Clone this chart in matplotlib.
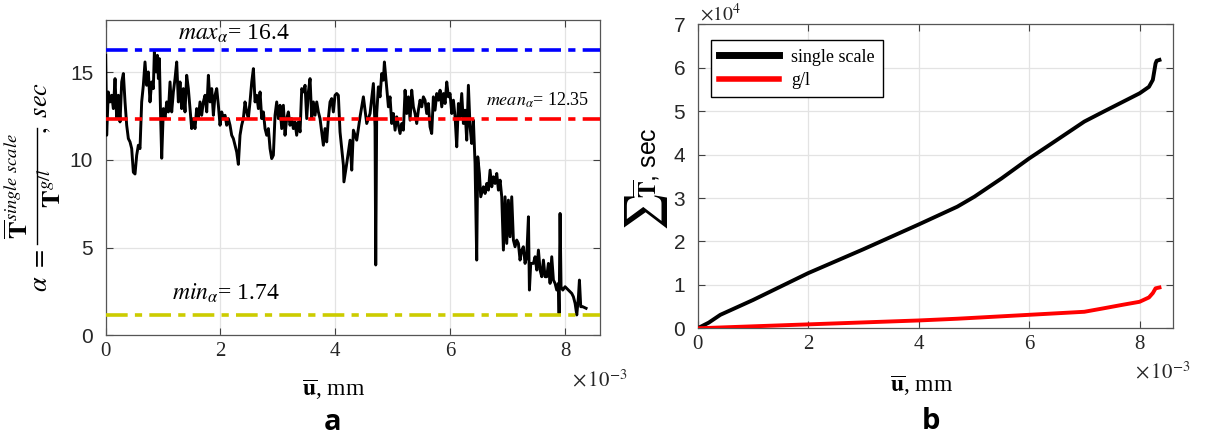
import numpy as np
import matplotlib
matplotlib.use("Agg")
import matplotlib.pyplot as plt
from matplotlib.lines import Line2D

plt.rcParams['font.family'] = 'Liberation Serif'
plt.rcParams['mathtext.fontset'] = 'stix'

# ---- panel a : alpha ratio vs displacement (u in units of 1e-3 mm)
u_a = [0.000, 0.017, 0.046, 0.075, 0.105, 0.134, 0.163, 0.192, 0.221, 0.250,
       0.279, 0.308, 0.337, 0.366, 0.395, 0.424, 0.453, 0.482, 0.511, 0.540,
       0.569, 0.598, 0.627, 0.656, 0.685, 0.714, 0.743, 0.772, 0.801, 0.830,
       0.848, 0.877, 0.900, 0.918, 0.935, 0.958, 0.976, 1.005, 1.034, 1.063,
       1.092, 1.121, 1.150, 1.179, 1.208, 1.237, 1.266, 1.295, 1.324, 1.353,
       1.382, 1.411, 1.440, 1.469, 1.498, 1.527, 1.556, 1.585, 1.614, 1.643,
       1.672, 1.701, 1.731, 1.760, 1.789, 1.818, 1.847, 1.876, 1.905, 1.934,
       1.963, 1.992, 2.021, 2.050, 2.079, 2.108, 2.137, 2.166, 2.195, 2.224,
       2.253, 2.282, 2.311, 2.340, 2.369, 2.398, 2.427, 2.456, 2.485, 2.514,
       2.544, 2.573, 2.602, 2.631, 2.660, 2.689, 2.718, 2.747, 2.776, 2.805,
       2.834, 2.863, 2.892, 2.921, 2.950, 2.979, 3.008, 3.037, 3.066, 3.095,
       3.124, 3.153, 3.182, 3.211, 3.240, 3.269, 3.298, 3.327, 3.357, 3.386,
       3.415, 3.444, 3.473, 3.502, 3.531, 3.560, 3.589, 3.618, 3.647, 3.676,
       3.705, 3.734, 3.763, 3.792, 3.821, 3.850, 3.879, 3.908, 3.937, 3.966,
       3.995, 4.024, 4.053, 4.082, 4.111, 4.141, 4.150, 4.199, 4.257, 4.286,
       4.315, 4.373, 4.431, 4.489, 4.547, 4.605, 4.663, 4.692, 4.704, 4.721,
       4.750, 4.779, 4.808, 4.837, 4.855, 4.884, 4.925, 4.953, 4.983, 5.012,
       5.041, 5.070, 5.128, 5.157, 5.186, 5.215, 5.244, 5.273, 5.302, 5.331,
       5.360, 5.389, 5.418, 5.447, 5.476, 5.505, 5.534, 5.563, 5.592, 5.621,
       5.650, 5.679, 5.708, 5.737, 5.767, 5.796, 5.825, 5.854, 5.883, 5.912,
       5.941, 5.970, 5.999, 6.028, 6.057, 6.086, 6.115, 6.144, 6.173, 6.202,
       6.231, 6.260, 6.289, 6.318, 6.347, 6.376, 6.405, 6.434, 6.463, 6.481,
       6.510, 6.533, 6.580, 6.609, 6.638, 6.667, 6.696, 6.725, 6.754, 6.783,
       6.812, 6.841, 6.870, 6.899, 6.928, 6.957, 6.986, 7.015, 7.044, 7.073,
       7.102, 7.131, 7.160, 7.189, 7.218, 7.247, 7.276, 7.305, 7.334, 7.364,
       7.381, 7.404, 7.451, 7.480, 7.509, 7.538, 7.567, 7.596, 7.625, 7.654,
       7.683, 7.712, 7.741, 7.770, 7.799, 7.828, 7.857, 7.886, 7.898, 7.915,
       7.932, 7.962, 8.002, 8.060, 8.118, 8.147, 8.177, 8.206, 8.235, 8.252,
       8.275, 8.310, 8.368]
alpha = [15.97, 11.41, 13.88, 13.31, 13.69, 12.93, 14.64, 12.36, 13.69, 12.17,
         14.45, 14.93, 13.31, 11.98, 11.22, 11.03, 10.65, 9.30, 9.20, 10.27,
         10.84, 10.65, 13.31, 14.26, 15.59, 14.26, 15.02, 13.31, 14.45, 14.07,
         16.16, 15.02, 15.97, 14.64, 15.78, 12.36, 10.10, 12.93, 12.36, 13.31,
         12.74, 14.45, 12.74, 13.88, 14.64, 15.59, 13.31, 14.45, 12.93, 14.07,
         12.74, 14.83, 14.07, 12.93, 11.79, 12.36, 11.79, 12.93, 12.36, 13.31,
         12.55, 13.31, 13.69, 12.74, 14.83, 13.31, 14.07, 12.55, 13.69, 14.07,
         13.12, 11.98, 12.74, 12.36, 12.55, 11.98, 12.36, 11.98, 11.41, 11.22,
         10.84, 10.46, 9.75, 11.41, 11.98, 12.36, 13.31, 12.74, 12.36, 13.31,
         14.45, 15.21, 13.31, 13.69, 12.93, 13.88, 12.36, 12.74, 11.79, 11.41,
         11.79, 10.65, 10.08, 10.27, 12.55, 13.31, 12.36, 13.12, 11.79, 13.12,
         11.41, 12.36, 12.74, 11.98, 12.36, 11.79, 12.17, 11.41, 12.17, 11.60,
         14.07, 13.88, 14.26, 12.36, 13.88, 14.64, 12.36, 13.31, 12.55, 13.31,
         12.74, 12.36, 11.60, 10.84, 11.79, 11.03, 12.36, 13.31, 13.50, 12.74,
         13.69, 13.79, 13.69, 11.60, 10.65, 9.70, 8.75, 9.80, 11.13, 9.42,
         11.70, 11.13, 12.46, 13.60, 12.08, 12.65, 14.36, 11.89, 4.01, 12.65,
         14.17, 13.60, 14.93, 14.55, 15.59, 14.55, 13.03, 13.60, 12.08, 12.65,
         11.70, 12.46, 11.51, 12.08, 11.70, 13.98, 12.65, 13.60, 12.27, 13.98,
         13.03, 12.65, 12.08, 12.84, 13.41, 13.03, 13.60, 13.41, 12.65, 13.22,
         11.89, 11.51, 13.60, 12.84, 13.79, 13.41, 13.98, 13.03, 13.79, 13.22,
         14.45, 13.60, 13.79, 12.65, 13.41, 12.46, 10.75, 13.22, 12.46, 13.79,
         12.08, 12.84, 11.13, 14.26, 11.89, 10.94, 12.27, 9.80, 4.29, 10.18,
         9.23, 7.90, 8.47, 8.09, 8.66, 8.28, 9.42, 8.47, 9.04, 8.66,
         9.23, 8.28, 8.85, 7.90, 4.86, 7.90, 5.24, 7.71, 5.62, 7.90,
         5.43, 5.05, 5.43, 5.24, 4.29, 4.86, 5.05, 4.10, 4.48, 6.76,
         2.58, 4.10, 4.10, 4.48, 3.72, 4.86, 3.72, 3.34, 4.29, 3.34,
         3.34, 4.10, 2.96, 4.48, 3.15, 2.96, 2.58, 2.96, 1.25, 6.95,
         2.77, 2.58, 2.77, 2.58, 2.39, 2.20, 1.82, 1.16, 2.20, 3.15,
         1.63, 1.63, 1.54]
alpha_max_line = 16.27
alpha_mean_line = 12.33
alpha_min_line = 1.15

# ---- panel b : cumulative time (units of 1e4 sec)
u_single = [0.0, 0.2, 0.41, 1.0, 2.0, 3.0, 4.0, 4.70, 5.01, 5.5, 6.0, 6.32,
            7.0, 7.35, 8.0, 8.17, 8.24, 8.29, 8.31, 8.36]
t_single = [0.0, 0.13, 0.31, 0.65, 1.27, 1.82, 2.39, 2.80, 3.03, 3.45, 3.91,
            4.18, 4.76, 4.99, 5.41, 5.56, 5.72, 6.10, 6.16, 6.18]
u_gl = [0.0, 2.0, 4.0, 4.7, 6.0, 7.0, 7.35, 7.69, 8.0, 8.17, 8.24, 8.29, 8.36]
t_gl = [0.0, 0.09, 0.18, 0.22, 0.31, 0.38, 0.46, 0.54, 0.61, 0.71, 0.81,
        0.92, 0.94]

sans = 'Liberation Sans'
tickc = '#262626'
W, H = 1205.0, 441.0

fig = plt.figure(figsize=(12.05, 4.41), dpi=100)
ax1 = fig.add_axes([0.0877, 0.2397, 0.4102, 0.7156])
ax2 = fig.add_axes([0.5790, 0.2556, 0.3942, 0.6893])

def px(x, y):
    # pixel position (from top-left) -> figure fraction
    return x / W, 1 - y / H

def style(ax):
    ax.grid(True, color='#e3e3e3', lw=0.9)
    ax.set_axisbelow(True)
    ax.tick_params(direction='in', length=5, top=True, right=True,
                   color='#404040', width=0.8, labelcolor=tickc)
    for s in ax.spines.values():
        s.set_color('#555555')
        s.set_linewidth(0.9)
    for lab in ax.get_yticklabels():
        lab.set_fontfamily(sans)
        lab.set_fontsize(15)
    for lab in ax.get_xticklabels():
        lab.set_fontfamily('Liberation Serif')
        lab.set_fontsize(15)

# panel a
ax1.plot(u_a, alpha, color='black', lw=2.1, zorder=3)
ax1.axhline(alpha_max_line, color='blue', lw=2.6, ls='-.', dashes=(6, 2, 2, 2), zorder=4)
ax1.axhline(alpha_mean_line, color='red', lw=2.6, ls='-.', dashes=(6, 2, 2, 2), zorder=4)
ax1.axhline(alpha_min_line, color='#cccc00', lw=2.6, ls='-.', dashes=(6, 2, 2, 2), zorder=4)
ax1.set_xlim(0, 8.61)
ax1.set_ylim(0, 18)
ax1.set_xticks([0, 2, 4, 6, 8])
ax1.set_yticks([0, 5, 10, 15])
ax1.tick_params(axis='y', pad=9)
ax1.tick_params(axis='x', pad=5)
style(ax1)
ax1.text(2.235, 17.22, r'$max_{\alpha}$= 16.4', fontsize=17, ha='center', va='center')
ax1.text(7.53, 13.4, r'$mean_{\alpha}$= 12.35', fontsize=13, ha='center', va='center')
ax1.text(2.10, 2.41, r'$min_{\alpha}$= 1.74', fontsize=17, ha='center', va='center')
ax1.text(0.462, -0.173, r'$\overline{\mathbf{u}}$, mm', transform=ax1.transAxes,
         fontsize=17, ha='center', va='center')

# y label of panel a, built as a rotated fraction
fig.text(*px(19, 186), r'$\overline{\mathbf{T}}^{single\ scale}$', rotation=90,
         fontsize=19, ha='center', va='center')
fig.text(*px(52, 188), r'$\overline{\mathbf{T}}^{g/l}$', rotation=90,
         fontsize=19, ha='center', va='center')
fig.text(*px(41, 270), r'$\alpha\ =$', rotation=90, fontsize=19,
         ha='center', va='center')
fig.text(*px(42, 108), r'$,\ sec$', rotation=90, fontsize=19,
         ha='center', va='center')
bx0, by0 = px(37, 128)
bx1, by1 = px(37, 244)
fig.add_artist(Line2D([bx0, bx1], [by0, by1], transform=fig.transFigure,
                      color='black', lw=1.0))

# panel b
ax2.plot(u_single, t_single, color='black', lw=2.8, zorder=3)
ax2.plot(u_gl, t_gl, color='red', lw=2.8, zorder=3)
ax2.set_xlim(0, 8.6)
ax2.set_ylim(0, 7)
ax2.set_xticks([0, 2, 4, 6, 8])
ax2.set_yticks(range(8))
ax2.tick_params(axis='y', pad=9)
ax2.tick_params(axis='x', pad=5)
style(ax2)
handles = [Line2D([], [], color='black', lw=5), Line2D([], [], color='red', lw=4)]
leg = ax2.legend(handles, ['single scale', 'g/l'], loc='upper left',
                 bbox_to_anchor=(0.028, 0.947), borderaxespad=0, fontsize=13,
                 handlelength=3.3, handletextpad=0.7, borderpad=0.45,
                 labelspacing=0.35, fancybox=False, framealpha=1)
leg.get_frame().set_edgecolor('black')
leg.get_frame().set_linewidth(1.0)
fig.text(*px(646, 212), r'$\sum$', rotation=90, fontsize=30, ha='center', va='center')
fig.text(*px(647, 163), r'$\overline{\mathbf{T}}$, sec', rotation=90, fontsize=18,
         ha='center', va='center', family=sans)
ax2.text(0.472, -0.187, r'$\overline{\mathbf{u}}$, mm', transform=ax2.transAxes,
         fontsize=17, ha='center', va='center')

# exponent notes and panel letters
fig.text(0.4747, 0.138, r'$\times\,10^{-3}$', fontsize=15, ha='left', va='center', color=tickc)
fig.text(0.942, 0.156, r'$\times\,10^{-3}$', fontsize=15, ha='left', va='center', color=tickc)
fig.text(0.581, 0.970, r'$\times10^{4}$', fontsize=14, ha='left', va='center',
         color=tickc, family=sans)
fig.text(0.2763, 0.041, 'a', fontsize=21, fontweight='bold', family='Open Sans',
         ha='center', va='center')
fig.text(0.7724, 0.044, 'b', fontsize=21, fontweight='bold', family='Open Sans',
         ha='center', va='center')

fig.savefig('out.png', dpi=100)
